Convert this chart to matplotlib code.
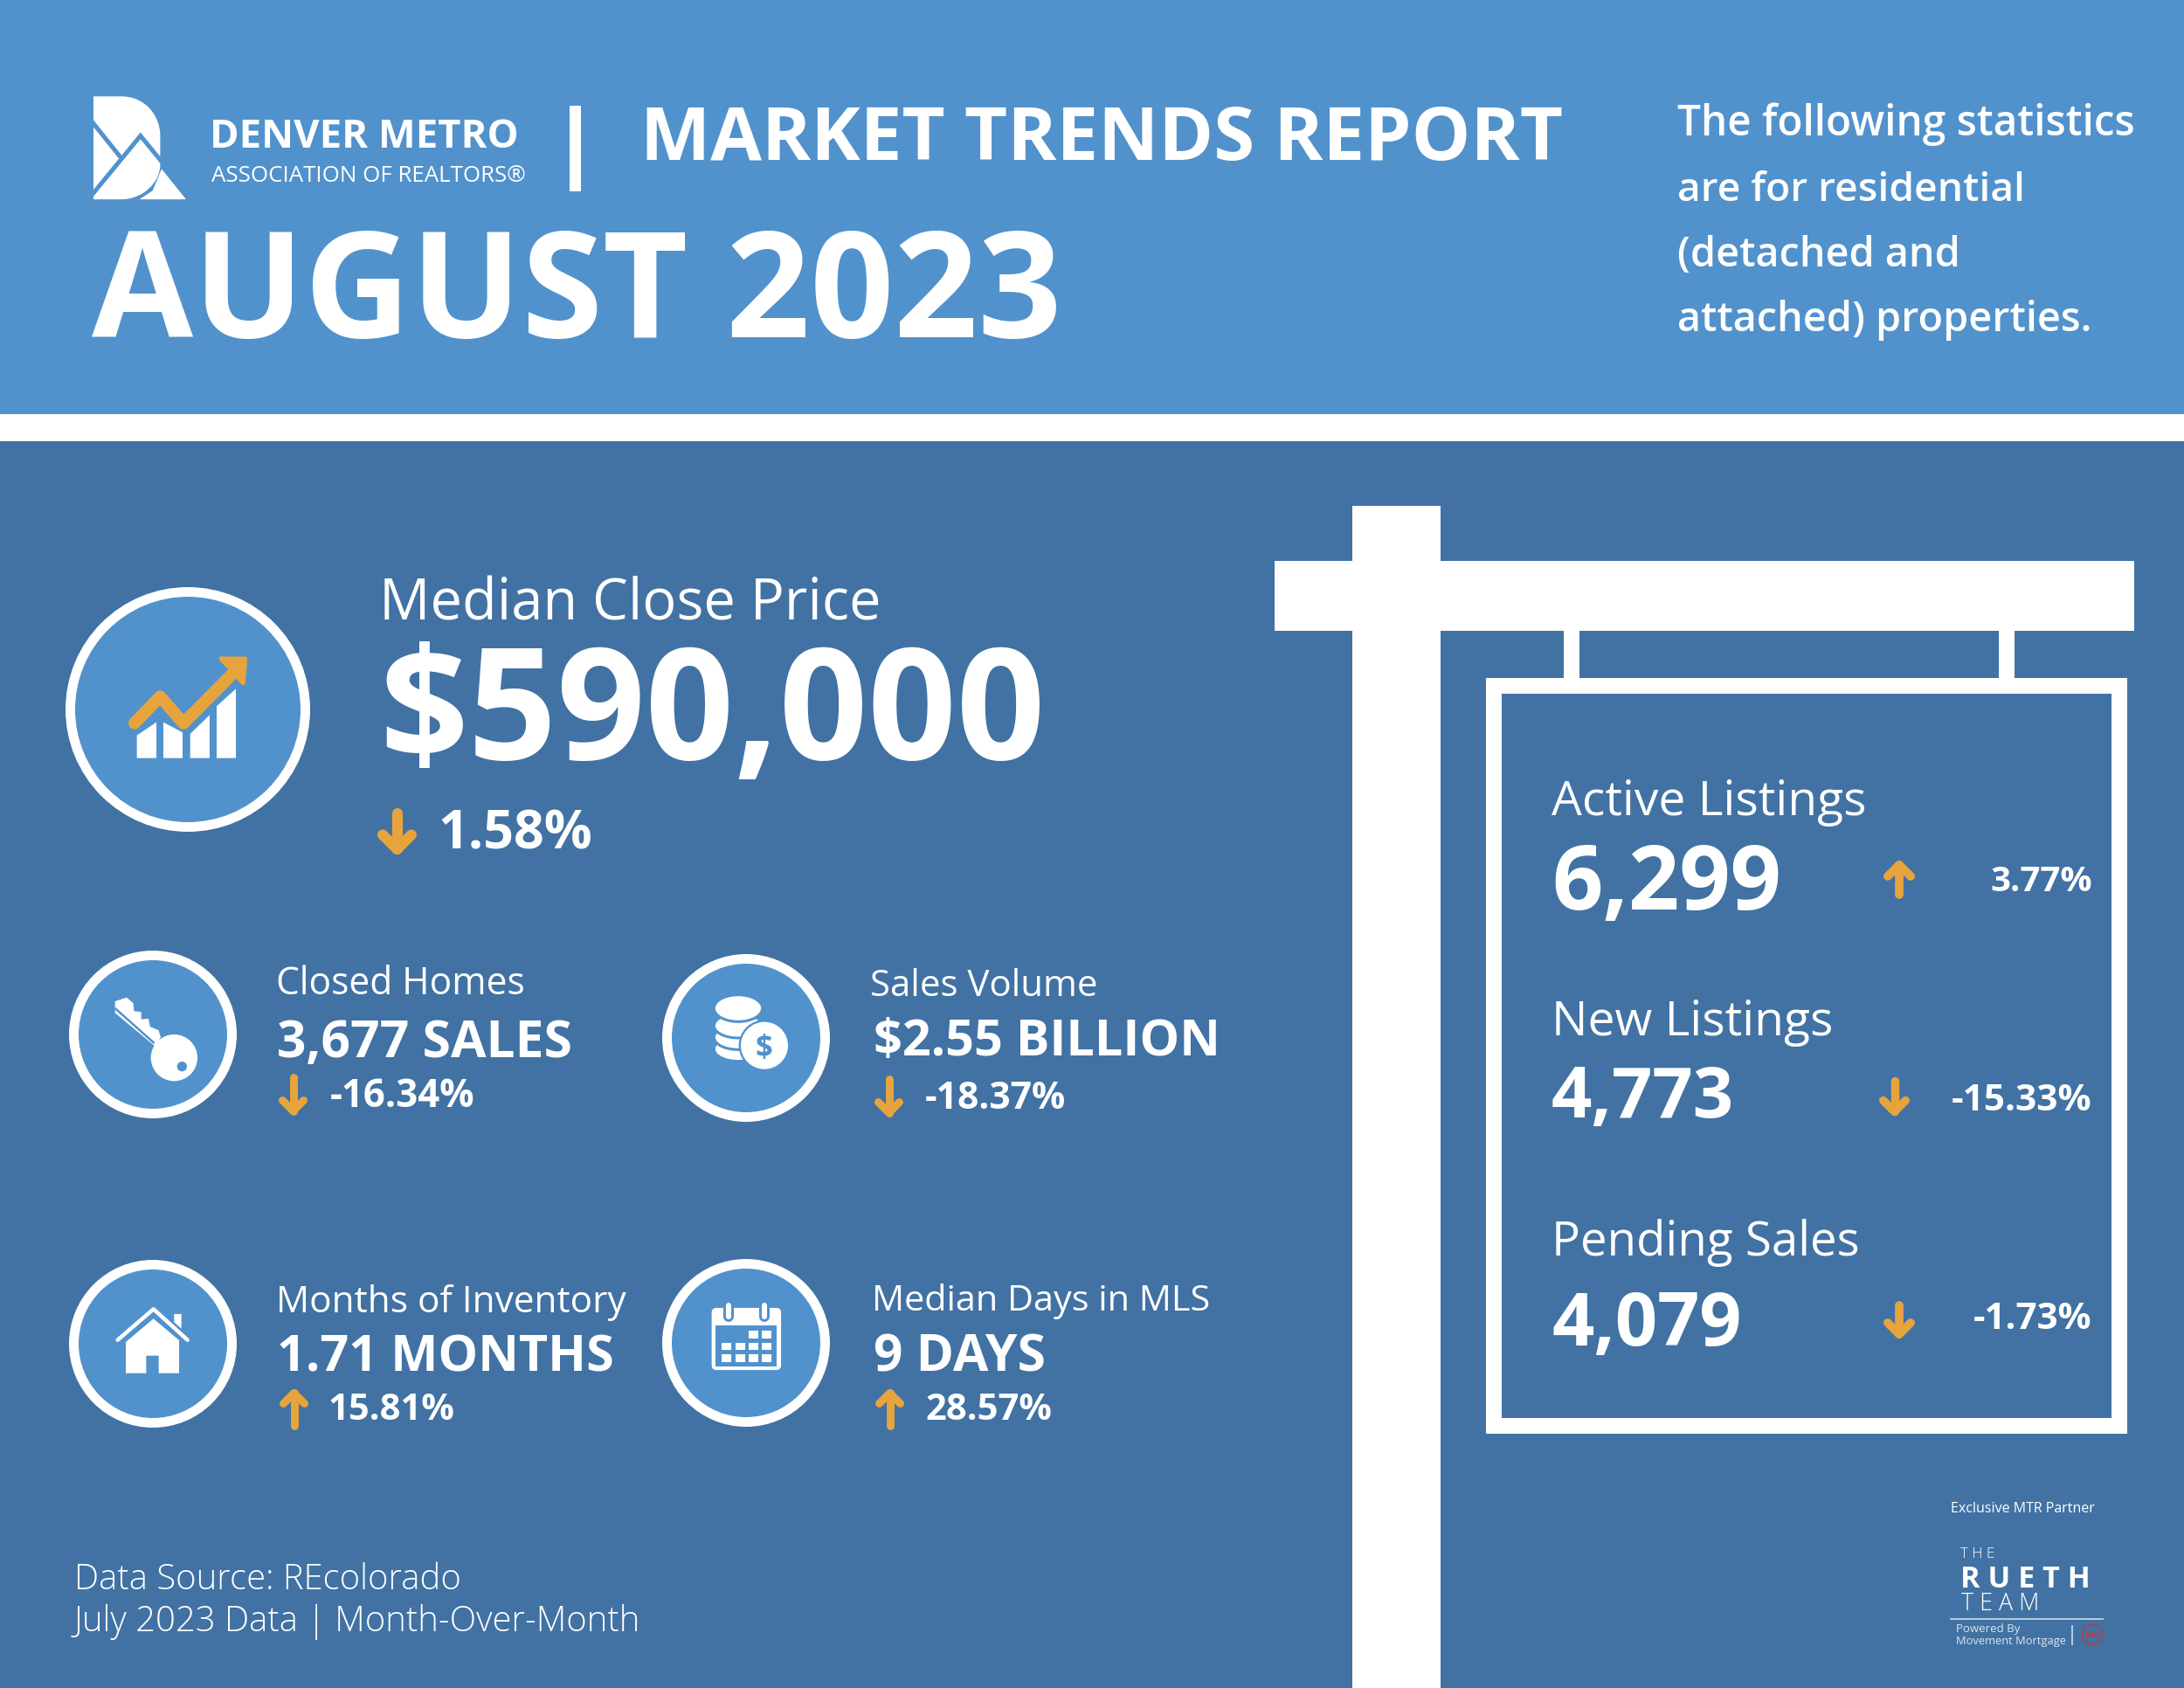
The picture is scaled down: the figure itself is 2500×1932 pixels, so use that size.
import matplotlib
matplotlib.use("Agg")
import matplotlib.pyplot as plt
from matplotlib.patches import Rectangle, Circle, Polygon, PathPatch, Ellipse, FancyBboxPatch
from matplotlib.path import Path

# ---- content ----
org_name = "DENVER METRO"
org_sub = "ASSOCIATION OF REALTORS®"
report_title = "MARKET TRENDS REPORT"
report_month = "AUGUST 2023"
scope_lines = ["The following statistics", "are for residential", "(detached and", "attached) properties."]
hero_label = "Median Close Price"
hero_value = "$590,000"
hero_change = "1.58%"
hero_dir = "down"
kpi_labels = ["Closed Homes", "Sales Volume", "Months of Inventory", "Median Days in MLS"]
kpi_values = ["3,677 SALES", "$2.55 BILLION", "1.71 MONTHS", "9 DAYS"]
kpi_changes = ["-16.34%", "-18.37%", "15.81%", "28.57%"]
kpi_dirs = ["down", "down", "up", "up"]
sign_labels = ["Active Listings", "New Listings", "Pending Sales"]
sign_values = ["6,299", "4,773", "4,079"]
sign_changes = ["3.77%", "-15.33%", "-1.73%"]
sign_dirs = ["up", "down", "down"]
source_lines = ["Data Source: REcolorado", "July 2023 Data | Month-Over-Month"]

LIGHT = "#5192CC"
DARK = "#4172A3"
WHITE = "#FFFFFF"
ORANGE = "#E8A43C"
FONT = "Open Sans"

fig = plt.figure(figsize=(25, 19.32), dpi=100)
ax = fig.add_axes([0, 0, 1, 1])
ax.set_xlim(0, 2500)
ax.set_ylim(1932, 0)
ax.axis("off")
fig.patch.set_facecolor(WHITE)
renderer = fig.canvas.get_renderer()


def fit(x0, x1, y, s, weight="normal", color=WHITE, family=FONT):
    t = ax.text(x0, y, s, ha="left", va="baseline", color=color, fontsize=20,
                fontweight=weight, family=family, zorder=10)
    w = t.get_window_extent(renderer).width
    t.set_fontsize(20 * (x1 - x0) / w)
    return t


def rect(x0, y0, x1, y1, color=WHITE, z=2):
    ax.add_patch(Rectangle((x0, y0), x1 - x0, y1 - y0, fc=color, ec="none", zorder=z))


def zpts(ox, oy, pts, k=3.0):
    return [(ox + a / k, oy + b / k) for a, b in pts]


def poly(pts, color=WHITE, z=5):
    ax.add_patch(Polygon(pts, closed=True, fc=color, ec="none", zorder=z))


def stroke(pts, lw_px, color=WHITE, z=6, cap="round", join="round"):
    xs, ys = zip(*pts)
    ax.plot(xs, ys, color=color, lw=lw_px * 0.72, solid_capstyle=cap,
            solid_joinstyle=join, zorder=z)


def ring(cx, cy, ro, ri):
    ax.add_patch(Circle((cx, cy), ro, fc=WHITE, ec="none", zorder=3))
    ax.add_patch(Circle((cx, cy), ri, fc=LIGHT, ec="none", zorder=4))


def arrow(x0, x1, y0, y1, d):
    """orange arrow inside the box x0..x1, y0..y1"""
    cx = (x0 + x1) / 2
    w = (x1 - x0)
    lw = w * 0.27
    p = lw / 2
    tip, tail = (y0 + p, y1 - p) if d == "up" else (y1 - p, y0 + p)
    sgn = 1 if d == "up" else -1
    stroke([(cx, tip), (cx, tail)], lw, ORANGE, cap="butt" if False else "round")
    stroke([(x0 + p, tip + sgn * (w / 2 - p)), (cx, tip), (x1 - p, tip + sgn * (w / 2 - p))], lw, ORANGE)


# ---- background ----
rect(0, 0, 2500, 474, LIGHT, 1)
rect(0, 505, 2500, 1932, DARK, 1)

# ---- logo ----
def lz(pts):
    return zpts(60, 70, pts, 2.529)

v = lz([(118, 102), (200, 102), (270, 102), (312, 160), (312, 215), (312, 300), (312, 350), (262, 400), (200, 400), (118, 400), (118, 102)])
codes = [Path.MOVETO, Path.LINETO, Path.CURVE4, Path.CURVE4, Path.CURVE4, Path.LINETO,
         Path.CURVE4, Path.CURVE4, Path.CURVE4, Path.LINETO, Path.CLOSEPOLY]
ax.add_patch(PathPatch(Path(v, codes), fc=WHITE, ec="none", zorder=5))
poly(lz([(316, 312), (387, 400), (252, 400), (290, 375)]), WHITE, 5)
stroke(lz([(112, 172), (197, 278)]), 5, LIGHT, cap="butt")
stroke(lz([(112, 390), (255, 216), (322, 298)]), 5, LIGHT, cap="butt", join="miter")
rect(*lz([(112, 96)])[0], *lz([(118, 410)])[0], LIGHT, 6)

# ---- header text ----
fit(240, 593, 169, org_name, "bold")
fit(242, 601, 188 + 20, org_sub, "normal")
rect(652, 121, 665, 195 + 24, WHITE, 5)
fit(733, 1787, 183, report_title, "bold")
fit(105, 1215, 386, report_month, "bold")
for s, y, x1 in zip(scope_lines, [155, 230, 305, 379], [2443, 2318, 2243, 2393]):
    fit(1920, x1, y, s, 600)

# ---- hero ----
ring(215, 812, 140, 129)
bars = [(320, 387, 575, 530), (411, 477, 530, 565), (503, 570, 570, 505), (594, 660, 475, 415)]
for a, b, t0, t1 in bars:
    poly(zpts(50, 650, [(a, 653), (a, t0), (b, t1), (b, 653)]), WHITE, 5)
stroke(zpts(50, 650, [(312, 533), (400, 442), (480, 533), (650, 362)]), 14, ORANGE)
poly(zpts(50, 650, [(610, 312), (692, 312), (685, 395)]), ORANGE, 6)
stroke(zpts(50, 650, [(610, 312), (692, 312), (685, 395), (610, 312)]), 5, ORANGE)
fit(434, 1008, 710, hero_label, 500)
fit(434, 1197, 869, hero_value, "bold")
arrow(432, 477, 925, 978, hero_dir)
fit(501, 678, 971, hero_change, "bold")

# ---- kpis ----
kpi_layout = [
    (316, 600, 1138, 317, 655, 1210, 378, 544, 1267, 319, 352, 1229, 1276),
    (996, 1256, 1140, 1000, 1398, 1208, 1059, 1221, 1269, 1001, 1034, 1231, 1278),
    (316, 716, 1502, 317, 703, 1569, 376, 521, 1625, 320, 353, 1590, 1636),
    (998, 1385, 1500, 1000, 1197, 1570, 1059, 1204, 1625, 1002, 1035, 1590, 1636),
]
for lab, val, chg, d, L in zip(kpi_labels, kpi_values, kpi_changes, kpi_dirs, kpi_layout):
    fit(L[0], L[1], L[2], lab, 500)
    fit(L[3], L[4], L[5], val, "bold")
    fit(L[6], L[7], L[8], chg, "bold")
    arrow(L[9], L[10], L[11], L[12], d)

# key icon
ring(175, 1184, 96, 85)
poly(zpts(60, 1070, [(215, 228), (255, 215), (278, 235), (280, 262), (305, 265), (305, 290), (330, 288),
                     (335, 315), (365, 328), (372, 352), (352, 382), (215, 268)]), WHITE, 5)
ax.add_patch(Circle(zpts(60, 1070, [(418, 422)])[0], 80 / 3, fc=WHITE, ec="none", zorder=5))
ax.add_patch(Circle(zpts(60, 1070, [(445, 452)])[0], 17 / 3, fc=LIGHT, ec="none", zorder=6))
stroke(zpts(60, 1070, [(215, 252), (350, 372)]), 2.5, LIGHT, cap="butt")

# coins icon
ring(854, 1188, 96, 85)
ox, oy = 740, 1070
for yc in (392, 352, 312):
    c = zpts(ox, oy, [(315, yc)])[0]
    ax.add_patch(Ellipse(c, 166 / 3, 84 / 3, fc=WHITE, ec=LIGHT, lw=2.2, zorder=5))
ax.add_patch(Ellipse(zpts(ox, oy, [(315, 252)])[0], 166 / 3, 92 / 3, fc=WHITE, ec=LIGHT, lw=2.2, zorder=5))
ax.add_patch(Circle(zpts(ox, oy, [(405, 380)])[0], 88 / 3, fc=LIGHT, ec="none", zorder=6))
ax.add_patch(Circle(zpts(ox, oy, [(405, 380)])[0], 81 / 3, fc=WHITE, ec="none", zorder=7))
ax.text(*zpts(ox, oy, [(404, 380)])[0], "$", color=LIGHT, ha="center", va="center_baseline",
        fontsize=25, fontweight="bold", family=FONT, zorder=8)

# house icon
ring(175, 1538, 96, 85)
ox, oy = 60, 1430
poly(zpts(ox, oy, [(418, 222), (443, 222), (443, 272), (418, 250)]), WHITE, 5)
stroke(zpts(ox, oy, [(224, 311), (347, 205), (464, 311)]), 4.5, WHITE)
poly(zpts(ox, oy, [(252, 318), (347, 238), (435, 312), (435, 425), (365, 425), (365, 365), (322, 365),
                   (322, 425), (252, 425)]), WHITE, 5)

# calendar icon
ring(854, 1537, 96, 85)
ox, oy = 740, 1430
(a, b), (c, d) = zpts(ox, oy, [(228, 205), (458, 410)])
ax.add_patch(FancyBboxPatch((a, b), c - a, d - b, boxstyle="round,pad=0,rounding_size=4",
                            fc=WHITE, ec=WHITE, lw=2, zorder=5))
(a, b), (c, d) = zpts(ox, oy, [(238, 262), (448, 402)])
rect(a, b, c, d, LIGHT, 6)
for xc in (283, 405):
    (a, b), (c, d) = zpts(ox, oy, [(xc, 192), (xc, 230)])
    stroke([(a, b), (c, d)], 12, LIGHT, z=6)
    stroke([(a, b), (c, d)], 6, WHITE, z=7)
for r0, cols in ((280, (350, 395)), (320, (258, 305, 350, 395)), (360, (258, 305, 350, 395))):
    for c0 in cols:
        (a, b), (c, d) = zpts(ox, oy, [(c0, r0), (c0 + 33, r0 + 26)])
        rect(a, b, c, d, WHITE, 7)

# ---- sign ----
rect(1548, 579, 1649, 1932)
rect(1459, 642, 2443, 722)
rect(1790, 722, 1808, 780)
rect(2288, 722, 2306, 780)
rect(1701, 776, 2435, 1641)
rect(1719, 794, 2417, 1623, DARK, 3)

sign_layout = [
    (2135, 933, 2039, 1041, 2278, 1020, 2156, 2192, 985, 1029),
    (2097, 1185, 1985, 1279, 2234, 1271, 2151, 2186, 1232, 1277),
    (2127, 1437, 1993, 1540, 2259, 1521, 2156, 2192, 1489, 1532),
]
for lab, val, chg, d, L in zip(sign_labels, sign_values, sign_changes, sign_dirs, sign_layout):
    fit(1776, L[0], L[1], lab, 400)
    fit(1776, L[2], L[3], val, "bold")
    fit(L[4], 2395, L[5], chg, "bold")
    arrow(L[6], L[7], L[8], L[9], d)

# ---- source ----
fit(85, 528, 1819, source_lines[0], 300)
fit(85, 735, 1867, source_lines[1], 300)

# ---- partner ----
fit(2233, 2398, 1731, "Exclusive MTR Partner", 400)
fit(2244, 2283, 1783, "T H E", 300)
fit(2244, 2393, 1817, "R U E T H", "bold")
fit(2245, 2334, 1843, "T E A M", 300)
stroke([(2232, 1853), (2408, 1853)], 1.5, "#DCE6F0", cap="butt")
fit(2239, 2312, 1868, "Powered By", 400, "#DCE6F0")
fit(2239, 2365, 1882, "Movement Mortgage", 400, "#DCE6F0")
stroke([(2372, 1860), (2372, 1883)], 1.5, "#DCE6F0", cap="butt")
ax.add_patch(Circle((2395, 1871), 11.5, fc="none", ec="#A8434F", lw=1.3, zorder=6))
ax.text(2395, 1871, "MM", color="#A8434F", fontsize=6.5, fontweight="bold", family=FONT,
        ha="center", va="center_baseline", zorder=7)

fig.savefig("out.png", dpi=100, facecolor=WHITE)
